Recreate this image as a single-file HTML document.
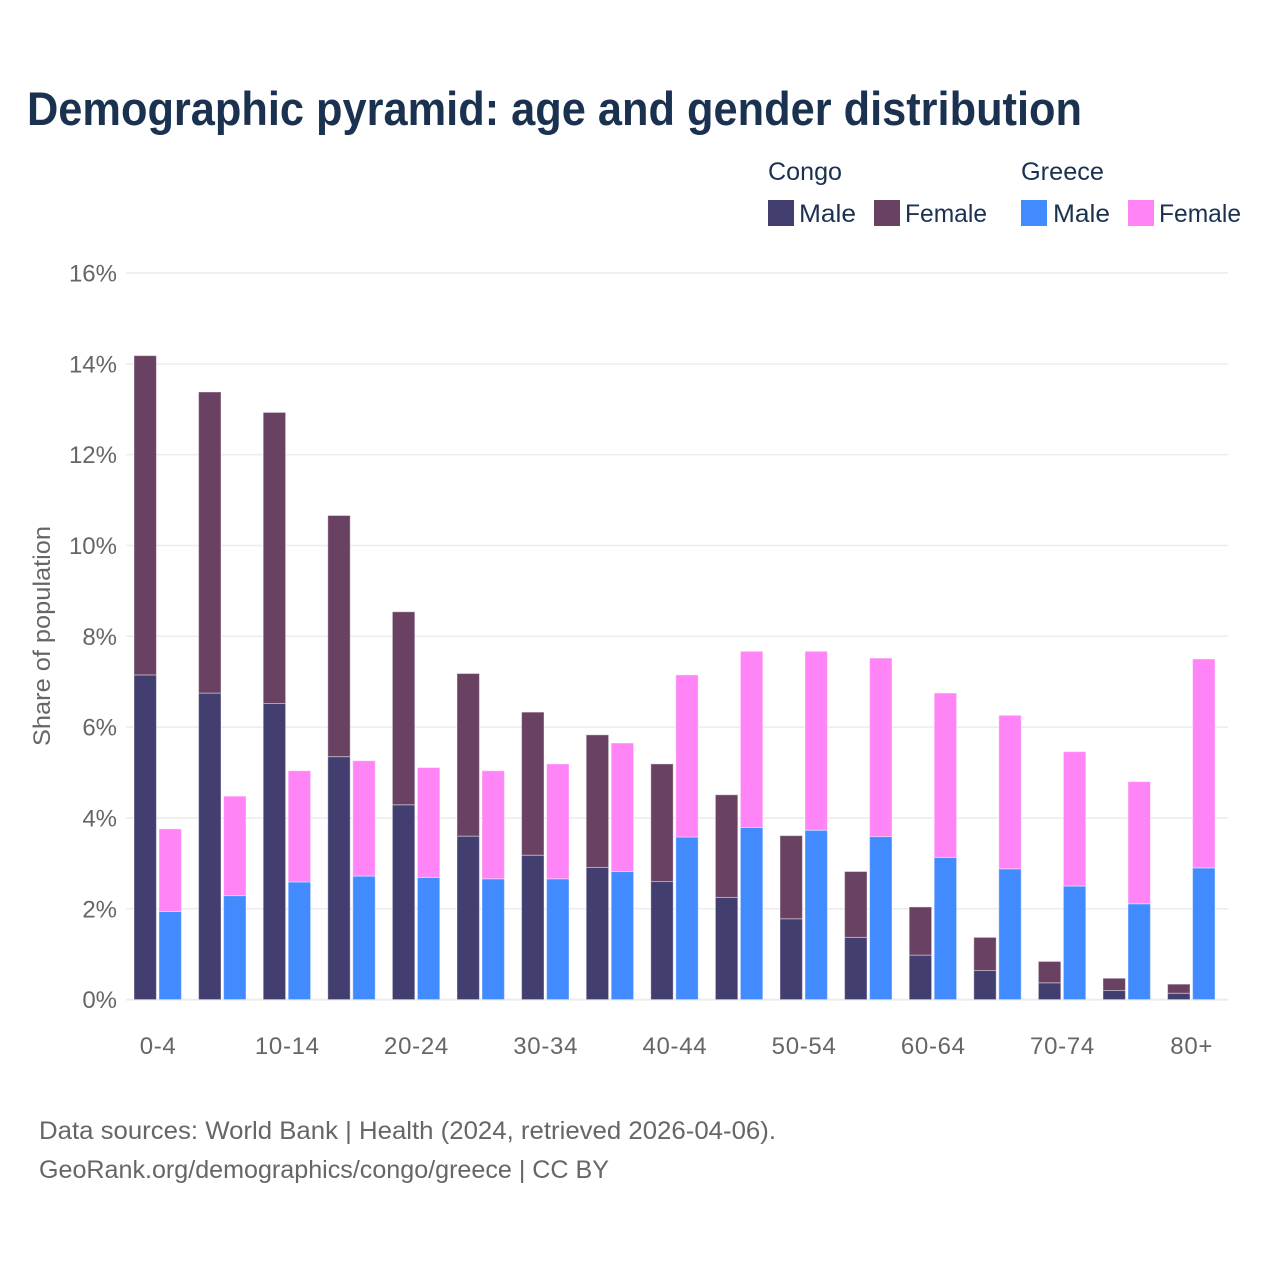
<!DOCTYPE html>
<html lang="en">
<head>
<meta charset="utf-8">
<title>Demographic pyramid: age and gender distribution</title>
<style>
html,body{margin:0;padding:0;background:#fff;}
svg{display:block;font-family:"Liberation Sans",sans-serif;}
.tick{font-size:24px;fill:#666666;}
.legend{font-size:25px;fill:#1a3150;}
.foot{font-size:25px;fill:#666666;}
</style>
</head>
<body>
<svg id="chart" width="1280" height="1280" viewBox="0 0 1280 1280" xmlns="http://www.w3.org/2000/svg">
  <rect width="1280" height="1280" fill="#ffffff"/>
  <text x="27" y="125" font-size="47" font-weight="700" fill="#1a3150" textLength="1055" lengthAdjust="spacingAndGlyphs">Demographic pyramid: age and gender distribution</text>

  <g>
    <text class="legend" x="768" y="180" textLength="74" lengthAdjust="spacingAndGlyphs">Congo</text>
    <text class="legend" x="1021" y="180" textLength="83" lengthAdjust="spacingAndGlyphs">Greece</text>
    <rect x="768" y="200" width="26" height="26" fill="#423f70"/>
    <text class="legend" x="799" y="222" textLength="57" lengthAdjust="spacingAndGlyphs">Male</text>
    <rect x="874" y="200" width="26" height="26" fill="#694163"/>
    <text class="legend" x="905" y="222" textLength="82" lengthAdjust="spacingAndGlyphs">Female</text>
    <rect x="1021" y="200" width="26" height="26" fill="#418bff"/>
    <text class="legend" x="1053" y="222" textLength="57" lengthAdjust="spacingAndGlyphs">Male</text>
    <rect x="1128" y="200" width="26" height="26" fill="#ff85f7"/>
    <text class="legend" x="1159" y="222" textLength="82" lengthAdjust="spacingAndGlyphs">Female</text>
  </g>

  <g id="grid"></g>
  <g id="yticks"></g>
  <g id="xticks"></g>
  <g id="bars"></g>

  <text transform="translate(50,636) rotate(-90)" text-anchor="middle" font-size="24" fill="#666666" textLength="220" lengthAdjust="spacingAndGlyphs">Share of population</text>

  <text class="foot" x="39" y="1139" textLength="737" lengthAdjust="spacingAndGlyphs">Data sources: World Bank | Health (2024, retrieved 2026-04-06).</text>
  <text class="foot" x="39" y="1178" textLength="570" lengthAdjust="spacingAndGlyphs">GeoRank.org/demographics/congo/greece | CC BY</text>
</svg>

<script>
var categories = ['0-4','5-9','10-14','15-19','20-24','25-29','30-34','35-39','40-44','45-49','50-54','55-59','60-64','65-69','70-74','75-79','80+'];
var congoMale = [7.15,6.75,6.52,5.35,4.29,3.60,3.18,2.91,2.60,2.25,1.78,1.37,0.98,0.64,0.37,0.20,0.14];
var congoFemale = [7.03,6.63,6.41,5.31,4.25,3.58,3.15,2.92,2.59,2.26,1.83,1.45,1.06,0.73,0.47,0.27,0.20];
var greeceMale = [1.94,2.29,2.59,2.72,2.69,2.66,2.66,2.82,3.58,3.79,3.73,3.59,3.13,2.88,2.50,2.11,2.90];
var greeceFemale = [1.82,2.19,2.45,2.54,2.42,2.38,2.53,2.83,3.57,3.88,3.94,3.93,3.62,3.38,2.96,2.69,4.60];
var yTicks = [0,2,4,6,8,10,12,14,16];

var NS = 'http://www.w3.org/2000/svg';
var plotLeft = 126, plotRight = 1228;
var y0 = 999.6, yTop = 273, yMax = 16;
var firstBar = 134, step = 64.6, barW = 22.4, pairOffset = 25;

function yScale(v) { return y0 - v * (y0 - yTop) / yMax; }
function xScale(i) { return firstBar + i * step; }

var gridG = document.getElementById('grid');
var yG = document.getElementById('yticks');
var xG = document.getElementById('xticks');
var barsG = document.getElementById('bars');

yTicks.forEach(function (t) {
  var line = document.createElementNS(NS, 'line');
  
  
  line.setAttribute('x1', plotLeft);
  line.setAttribute('x2', plotRight);
  line.setAttribute('y1', yScale(t));
  line.setAttribute('y2', yScale(t));
  line.setAttribute('stroke', '#ececef');
  line.setAttribute('stroke-width', t === 0 ? 2 : 1.5);
  gridG.appendChild(line);

  var label = document.createElementNS(NS, 'text');
  
  
  label.setAttribute('class', 'tick');
  label.setAttribute('x', 117);
  label.setAttribute('y', yScale(t) + 8.5);
  label.setAttribute('text-anchor', 'end');
  label.textContent = t + '%';
  yG.appendChild(label);
});

categories.forEach(function (c, i) {
  if (i % 2 !== 0) return;
  var label = document.createElementNS(NS, 'text');
  
  
  label.setAttribute('class', 'tick');
  label.setAttribute('x', xScale(i) + (barW + pairOffset) / 2 + 0.4);
  label.setAttribute('y', 1054);
  label.setAttribute('text-anchor', 'middle');
  label.setAttribute('style', 'letter-spacing:.7px');
  label.textContent = c;
  xG.appendChild(label);
});

function addBar(x, base, val, fill, stroke) {
  var r = document.createElementNS(NS, 'rect');
  
  
  r.setAttribute('x', x);
  r.setAttribute('y', yScale(base + val));
  r.setAttribute('width', barW);
  r.setAttribute('height', yScale(base) - yScale(base + val));
  r.setAttribute('fill', fill);
  r.setAttribute('stroke', stroke);
  r.setAttribute('stroke-width', 1);
  barsG.appendChild(r);
}

categories.forEach(function (c, i) {
  var x = xScale(i);
  addBar(x, 0, congoMale[i], '#423f70', 'rgba(255,255,255,0.4)');
  addBar(x, congoMale[i], congoFemale[i], '#694163', 'rgba(255,255,255,0.4)');
  addBar(x + pairOffset, 0, greeceMale[i], '#418bff', 'rgba(255,255,255,0.4)');
  addBar(x + pairOffset, greeceMale[i], greeceFemale[i], '#ff85f7', 'rgba(255,255,255,0.4)');
});
</script>
</body>
</html>
